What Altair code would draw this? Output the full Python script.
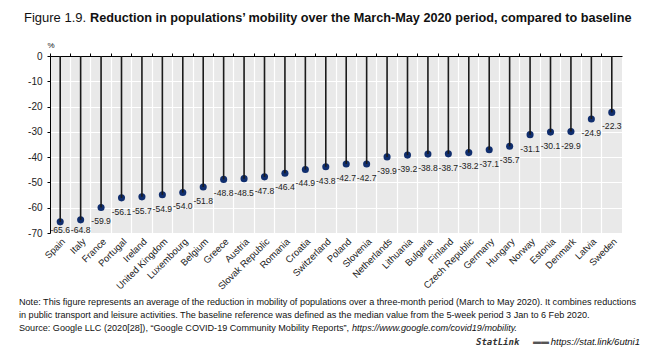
import altair as alt
import pandas as pd

countries = ["Spain", "Italy", "France", "Portugal", "Ireland", "United Kingdom", "Luxembourg",
             "Belgium", "Greece", "Austria", "Slovak Republic", "Romania", "Croatia", "Switzerland",
             "Poland", "Slovenia", "Netherlands", "Lithuania", "Bulgaria", "Finland", "Czech Republic",
             "Germany", "Hungary", "Norway", "Estonia", "Denmark", "Latvia", "Sweden"]
values = [-65.6, -64.8, -59.9, -56.1, -55.7, -54.9, -54.0, -51.8, -48.8, -48.5, -47.8, -46.4,
          -44.9, -43.8, -42.7, -42.7, -39.9, -39.2, -38.8, -38.7, -38.2, -37.1, -35.7, -31.1,
          -30.1, -29.9, -24.9, -22.3]
y_ticks = [0, -10, -20, -30, -40, -50, -60, -70]

title_plain = "Figure 1.9."
title_bold = "Reduction in populations\u2019 mobility over the March-May 2020 period, compared to baseline"
note_lines = [
    "Note: This figure represents an average of the reduction in mobility of populations over a three-month period (March to May 2020). It combines reductions",
    "in public transport and leisure activities. The baseline reference was defined as the median value from the 5-week period 3 Jan to 6 Feb 2020.",
]
source_plain = "Source: Google LLC (2020[28]), \u201cGoogle COVID-19 Community Mobility Reports\u201d,"
source_url = "https://www.google.com/covid19/mobility."
statlink_url = "https://stat.link/6utni1"

df = pd.DataFrame({"country": countries, "value": values})
df["zero"] = 0.0

FONT = "Liberation Sans"
W, H = 572, 177
LEFT, TOP = 50, 56

xscale = alt.Scale(type="band", paddingInner=0, paddingOuter=0, domain=countries)
yscale = alt.Scale(domain=[-70, 0], nice=False)

xb = alt.X("country:N", sort=countries, scale=xscale,
           axis=alt.Axis(orient="bottom", title=None, labelAngle=-45, labelFontSize=9.5,
                         labelFont=FONT, labelColor="#222", domain=False, ticks=False,
                         labelPadding=3, grid=True, gridColor="white", gridWidth=1.2,
                         bandPosition=0, labelOverlap=False))
xt = alt.X("country:N", sort=countries, scale=xscale,
           axis=alt.Axis(orient="top", title=None, labels=False, domain=True, domainColor="#000",
                         domainWidth=1, ticks=True, tickSize=3, tickColor="#000", bandPosition=0,
                         grid=False))
yaxis = alt.Axis(title=None, values=y_ticks, labelFontSize=10, labelFont=FONT,
                 labelColor="#222", domainColor="#000", tickSize=3, tickColor="#000",
                 gridColor="white", gridWidth=1.2, labelPadding=5,
                 labelExpr="toString(datum.value)")

points = alt.Chart(df).mark_circle(size=50, color="#102e6e", opacity=1).encode(
    x=xb, y=alt.Y("value:Q", scale=yscale, axis=yaxis))

stems = alt.Chart(df).mark_rule(color="#1a1a1a", strokeWidth=1.6).encode(
    x=xt, y=alt.Y("value:Q", scale=yscale, axis=yaxis), y2="zero:Q")

labels = alt.Chart(df).transform_calculate(
    ly="max(datum.value - 5.5, -68.7)",
    lbl="replace(format(datum.value, '.1f'), '\u2212', '-')"
).mark_text(fontSize=8.6, font=FONT, color="#222", baseline="middle", align="center").encode(
    x=alt.X("country:N", sort=countries, scale=xscale, axis=None, bandPosition=0.5),
    y=alt.Y("ly:Q", scale=yscale, axis=yaxis),
    text="lbl:N")

def txt(text, x, yv, size=9, weight="normal", style="normal", align="left", font=FONT, color="#111"):
    return alt.Chart(pd.DataFrame({"t": [text]})).mark_text(
        align=align, baseline="alphabetic", fontSize=size, fontWeight=weight, fontStyle=style,
        font=font, color=color).encode(x=alt.value(x), y=alt.value(yv), text="t:N")

annotations = [
    txt(title_plain, 24 - LEFT, 22 - TOP, size=13),
    txt(title_bold, 90 - LEFT, 22 - TOP, size=12.7, weight="bold"),
    txt("%", 51 - LEFT, 48 - TOP, size=8, align="center"),
    txt(note_lines[0], 19 - LEFT, 305 - TOP, size=9.1),
    txt(note_lines[1], 19 - LEFT, 318 - TOP, size=9.1),
    txt(source_plain, 19 - LEFT, 331 - TOP, size=9.1),
    txt(source_url, 352 - LEFT, 331 - TOP, size=9.1, style="italic"),
    txt(statlink_url, 640 - LEFT, 345 - TOP, size=9.5, style="italic", align="right"),
    txt("StatLink", 476 - LEFT, 345 - TOP, size=9, style="italic", weight="bold",
        font="DejaVu Sans Mono", color="#333"),
    txt("\u25ac\u25ac", 549 - LEFT, 344 - TOP, size=8, align="right", color="#555"),
]

chart = alt.layer(points, stems, labels, *annotations).resolve_axis(x="independent").properties(
    width=W, height=H, background="white",
    padding={"left": LEFT, "top": TOP, "right": 661 - LEFT - W, "bottom": 356 - TOP - H},
    autosize=alt.AutoSizeParams(type="none"),
).configure_view(fill="#e9e9e9", strokeWidth=0)

chart.save("out.html", embed_options={"renderer": "svg", "actions": False})
